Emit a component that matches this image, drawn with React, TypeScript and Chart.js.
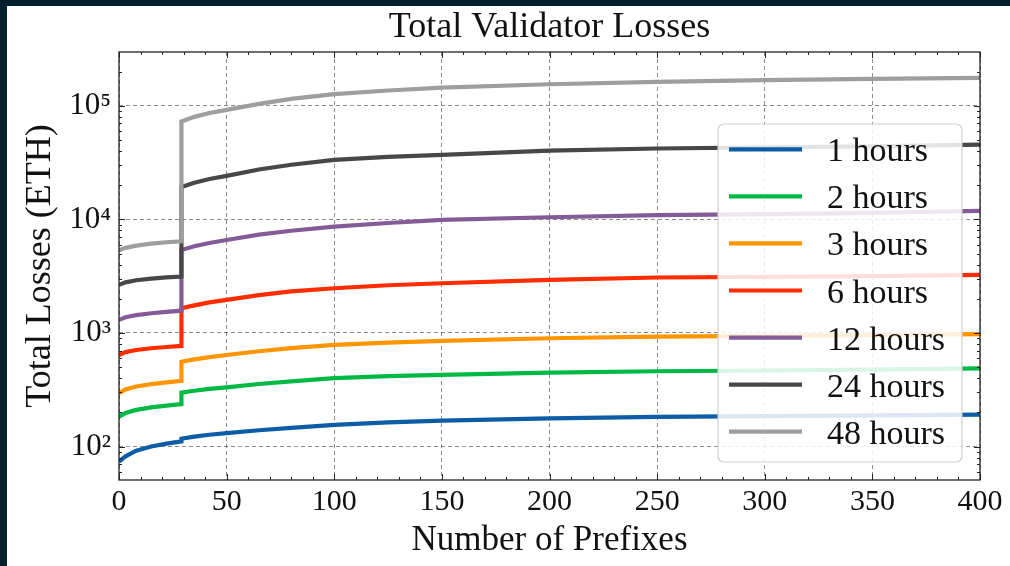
import React, { useEffect, useRef } from "react";
import { Chart, registerables } from "chart.js";

Chart.register(...registerables);

// Number of prefixes (x positions of the sampled points; the jump happens at 29)
const prefixes = [0, 3, 8, 15, 22, 29, 29, 35, 42, 50, 65, 80, 100, 125, 150, 200, 250, 300, 350, 400];

const seriesLabels = ["1 hours", "2 hours", "3 hours", "6 hours", "12 hours", "24 hours", "48 hours"];

const loss1h = [73.5, 82, 92, 100, 106, 111, 117, 122, 127, 131, 139, 146, 155, 163, 169, 177, 182, 185, 188, 191];
const loss2h = [183, 197, 210, 221, 229, 236, 298, 310, 322, 332, 355, 375, 400, 416, 428, 447, 460, 467, 476, 488];
const loss3h = [294, 318, 338, 354, 367, 378, 558, 585, 612, 640, 690, 735, 784, 822, 850, 898, 927, 942, 956, 975];
const loss6h = [640, 678, 708, 733, 752, 768, 1652, 1750, 1860, 1954, 2150, 2320, 2477, 2630, 2740, 2930, 3080, 3120, 3170, 3250];
const loss12h = [1303, 1375, 1435, 1492, 1535, 1570, 5380, 5800, 6200, 6590, 7350, 7950, 8640, 9300, 9900, 10450, 10900, 11150, 11400, 11900];
const loss24h = [2650, 2790, 2910, 3010, 3085, 3140, 19300, 21000, 22700, 24200, 27500, 30300, 33400, 35500, 37000, 40300, 42100, 43100, 44000, 45500];
const loss48h = [5340, 5620, 5870, 6110, 6290, 6410, 72800, 80000, 86500, 92200, 104000, 115000, 126800, 136500, 144500, 155000, 162500, 168300, 172600, 176200];

const xTickValues = [0, 50, 100, 150, 200, 250, 300, 350, 400];
const yTickValues = [100, 1000, 10000, 100000];

const chartTitle = "Total Validator Losses";

const colors = ["#0C5DA5", "#00B945", "#FF9500", "#FF2C00", "#845B97", "#474747", "#9E9E9E"];

const FONT = "'Liberation Serif', 'Times New Roman', serif";
const SUP: Record<string, string> = { "0": "⁰", "1": "¹", "2": "²", "3": "³", "4": "⁴", "5": "⁵", "6": "⁶" };

const framePlugin = {
  id: "frameTicks",
  afterDatasetsDraw(chart: any) {
    const { ctx, chartArea } = chart;
    const xs = chart.scales.x;
    const ys = chart.scales.y;
    const { left, right, top, bottom } = chartArea;
    ctx.save();
    ctx.strokeStyle = "#222";
    ctx.lineWidth = 1;
    ctx.beginPath();
    for (let v = xs.min; v <= xs.max + 1e-9; v += 10) {
      const px = Math.round(xs.getPixelForValue(v)) + 0.5;
      const len = v % 50 === 0 ? 6 : 3;
      ctx.moveTo(px, bottom);
      ctx.lineTo(px, bottom - len);
      ctx.moveTo(px, top);
      ctx.lineTo(px, top + len);
    }
    for (let e = 1; e <= 5; e++) {
      for (let m = 1; m <= 9; m++) {
        const v = m * Math.pow(10, e);
        if (v < ys.min || v > ys.max) continue;
        const py = Math.round(ys.getPixelForValue(v)) + 0.5;
        const len = m === 1 ? 6 : 3;
        ctx.moveTo(left, py);
        ctx.lineTo(left + len, py);
        ctx.moveTo(right, py);
        ctx.lineTo(right - len, py);
      }
    }
    ctx.stroke();
    ctx.lineWidth = 1.3;
    ctx.strokeRect(left, top, right - left, bottom - top);
    ctx.restore();
  },
  afterDraw(chart: any) {
    const { ctx, chartArea } = chart;
    ctx.save();
    // title centred over the plot area
    ctx.font = `36px ${FONT}`;
    ctx.fillStyle = "#111";
    ctx.textAlign = "center";
    ctx.textBaseline = "middle";
    ctx.fillText(chartTitle, (chartArea.left + chartArea.right) / 2, 21.5);

    // legend
    const x0 = 711, y0 = 118, w = 244, h = 338, r = 6;
    ctx.beginPath();
    ctx.moveTo(x0 + r, y0);
    ctx.lineTo(x0 + w - r, y0);
    ctx.arcTo(x0 + w, y0, x0 + w, y0 + r, r);
    ctx.lineTo(x0 + w, y0 + h - r);
    ctx.arcTo(x0 + w, y0 + h, x0 + w - r, y0 + h, r);
    ctx.lineTo(x0 + r, y0 + h);
    ctx.arcTo(x0, y0 + h, x0, y0 + h - r, r);
    ctx.lineTo(x0, y0 + r);
    ctx.arcTo(x0, y0, x0 + r, y0, r);
    ctx.closePath();
    ctx.fillStyle = "rgba(255,255,255,0.85)";
    ctx.fill();
    ctx.strokeStyle = "#cfcfcf";
    ctx.lineWidth = 1.2;
    ctx.stroke();
    ctx.font = `34px ${FONT}`;
    ctx.textBaseline = "alphabetic";
    ctx.textAlign = "left";
    chart.data.datasets.forEach((ds: any, i: number) => {
      const cy = 143.3 + i * 47.07;
      ctx.strokeStyle = ds.borderColor;
      ctx.lineWidth = 4.2;
      ctx.beginPath();
      ctx.moveTo(722, cy);
      ctx.lineTo(795, cy);
      ctx.stroke();
      ctx.fillStyle = "#111";
      ctx.fillText(ds.label, 820, cy + 12);
    });
    ctx.restore();
  },
};

export default function App() {
  const ref = useRef<HTMLCanvasElement>(null);
  useEffect(() => {
    if (!ref.current) return;
    const allSeries = [loss1h, loss2h, loss3h, loss6h, loss12h, loss24h, loss48h];
    const chart = new Chart(ref.current, {
      type: "line",
      data: {
        datasets: allSeries.map((vals, i) => ({
          label: seriesLabels[i],
          data: vals.map((v, k) => ({ x: prefixes[k], y: v })),
          borderColor: colors[i],
          backgroundColor: colors[i],
          borderWidth: 4.2,
          pointRadius: 0,
          tension: 0,
          fill: false,
          order: allSeries.length - 1 - i,
        })),
      },
      options: {
        responsive: false,
        animation: false,
        layout: { padding: { left: 0, top: 46, right: 30, bottom: 0 } },
        plugins: {
          legend: { display: false },
          tooltip: { enabled: false },
          title: { display: false },
        },
        scales: {
          x: {
            type: "linear",
            min: 0,
            max: 400,
            afterBuildTicks: (s: any) => {
              s.ticks = xTickValues.map((v) => ({ value: v }));
            },
            afterFit: (s: any) => {
              s.height = 86;
            },
            ticks: {
              color: "#111",
              font: { family: FONT, size: 30 },
              padding: 4,
              maxRotation: 0,
              autoSkip: false,
            },
            grid: { color: "rgba(0,0,0,0.5)", lineWidth: 0.9, drawTicks: false },
            border: { display: false, dash: [4, 3] },
            title: {
              display: true,
              text: "Number of Prefixes",
              color: "#111",
              font: { family: FONT, size: 35, lineHeight: 1.2 },
              padding: { top: 0, bottom: 4 },
            },
          },
          y: {
            type: "logarithmic",
            min: 50.7,
            max: 298000,
            afterBuildTicks: (s: any) => {
              s.ticks = yTickValues.map((v) => ({ value: v }));
            },
            afterFit: (s: any) => {
              s.width = 112;
            },
            ticks: {
              color: "#111",
              font: { family: FONT, size: 31 },
              padding: 8,
              autoSkip: false,
              callback: (v: any) => {
                const e = String(Math.round(Math.log10(Number(v))));
                return "10" + e.split("").map((c) => SUP[c] || c).join("");
              },
            },
            grid: { color: "rgba(0,0,0,0.5)", lineWidth: 0.9, drawTicks: false },
            border: { display: false, dash: [4, 3] },
            title: {
              display: true,
              text: "Total Losses (ETH)",
              color: "#111",
              font: { family: FONT, size: 36, lineHeight: 1.2 },
              padding: { top: 12, bottom: 0 },
            },
          },
        },
      },
      plugins: [framePlugin],
    });
    return () => chart.destroy();
  }, []);

  return (
    <div style={{ position: "absolute", left: 0, top: 0, width: 1010, height: 566, background: "#03202c", overflow: "hidden" }}>
      <div style={{ position: "absolute", left: 7, top: 6, width: 1003, height: 560, background: "#ffffff" }}>
        <canvas ref={ref} width={1003} height={560} style={{ display: "block" }} />
      </div>
    </div>
  );
}
